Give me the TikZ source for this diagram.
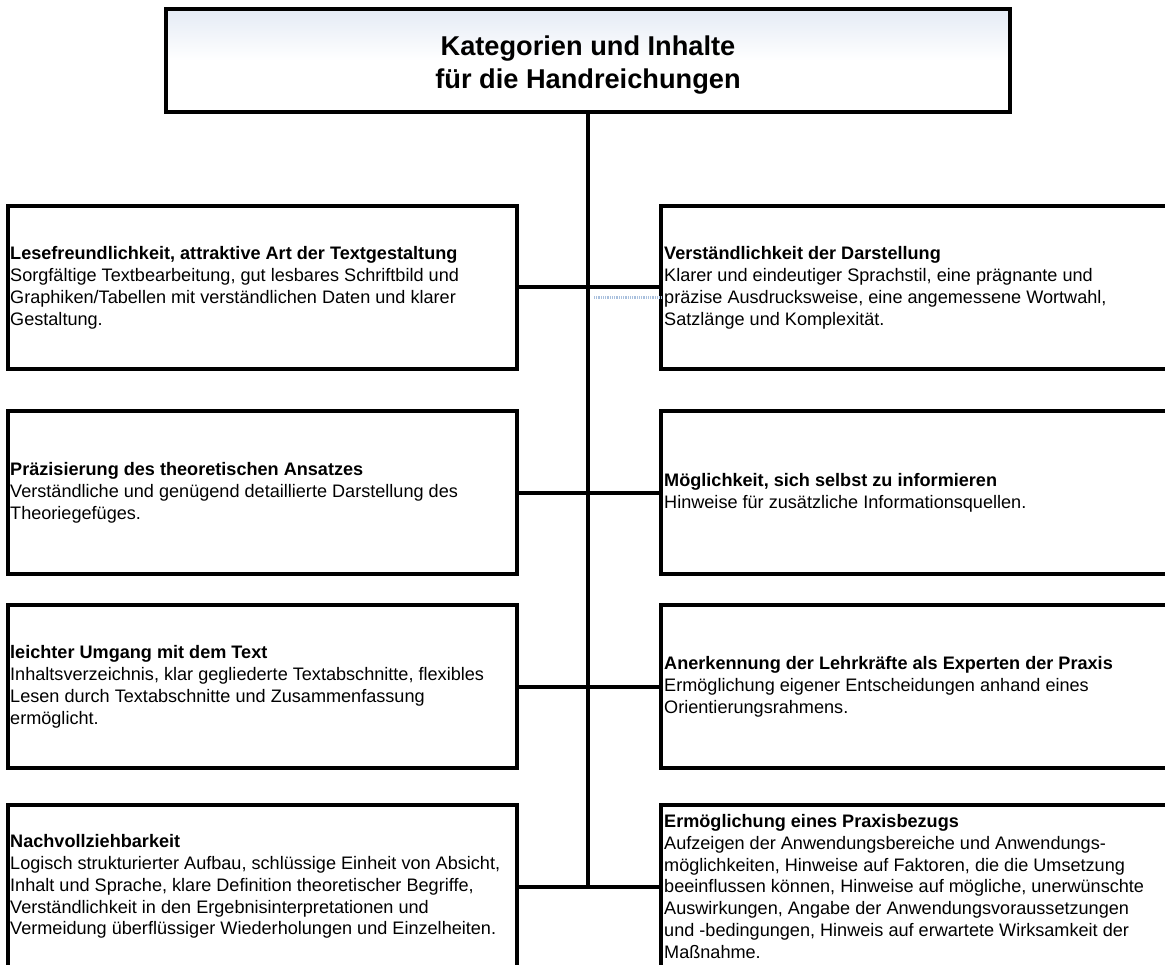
\documentclass[tikz,border=0pt]{standalone}
\usepackage{fontspec}
\setmainfont{Liberation Sans}
\definecolor{titletop}{HTML}{E4EBF5}
\definecolor{handle}{HTML}{A9C0DD}
\begin{document}
\begin{tikzpicture}[x=1pt,y=-1pt,
  box/.style={draw=black, line width=4pt, rectangle, fill=white,
    anchor=north west, outer sep=0pt, inner sep=0pt,
    minimum width=509pt, minimum height=163pt},
  boxtext/.style={anchor=west, align=left, inner sep=0pt,
    font=\fontsize{18.1}{21.9}\selectfont},
  headbox/.style={draw=black, line width=4pt, rectangle, outer sep=0pt,
    minimum width=844pt, minimum height=103pt,
    top color=titletop, bottom color=white, middle color=white},
  headtext/.style={align=center, inner sep=0pt,
    font=\bfseries\fontsize{27.2}{33}\selectfont},
  link/.style={draw=black, line width=4pt},
  handleline/.style={draw=handle, line width=3pt, dash pattern=on 1pt off 0.8pt}]
\useasboundingbox (0,0) rectangle (1165,965);
\clip (0,0) rectangle (1165,965);

% heading
\node[headbox] (T) at (588,60.5) {};
\node[headtext] (Tt) at ([yshift=-5pt]T.center) {Kategorien und Inhalte\\für die Handreichungen};

% left column
\node[box] (L1) at (8,206) {};
\node[box] (L2) at (8,411) {};
\node[box] (L3) at (8,605) {};
\node[box] (L4) at (8,805) {};
% right column
\node[box] (R1) at (661,206) {};
\node[box] (R2) at (661,411) {};
\node[box] (R3) at (661,605) {};
\node[box] (R4) at (661,805) {};

% spine and branches
\coordinate (spineend) at (588,887);
\draw[link] (T.south) -- (spineend);
\draw[link] (L1.east) -- (R1.west);
\draw[link] (L2.east) -- (R2.west);
\draw[link] (L3.east) -- (R3.west);
\draw[link] (L4.east) -- (R4.west);

% selection handle beside the first branch
\coordinate (h1) at (594,298);
\coordinate (h2) at (662,298);
\draw[handleline] (h1) -- (h2);

% texts
\node[boxtext] (L1t) at ([xshift=2pt]L1.west) {\textbf{Lesefreundlichkeit, attraktive Art der Textgestaltung}\\
Sorgfältige Textbearbeitung, gut lesbares Schriftbild und\\
Graphiken/Tabellen mit verständlichen Daten und klarer\\
Gestaltung.};
\node[boxtext] (R1t) at ([xshift=3pt]R1.west) {\textbf{Verständlichkeit der Darstellung}\\
Klarer und eindeutiger Sprachstil, eine prägnante und\\
präzise Ausdrucksweise, eine angemessene Wortwahl,\\
Satzlänge und Komplexität.};
\node[boxtext] (L2t) at ([xshift=2pt]L2.west) {\textbf{Präzisierung des theoretischen Ansatzes}\\
Verständliche und genügend detaillierte Darstellung des\\
Theoriegefüges.};
\node[boxtext] (R2t) at ([xshift=3pt]R2.west) {\textbf{Möglichkeit, sich selbst zu informieren}\\
Hinweise für zusätzliche Informationsquellen.};
\node[boxtext] (L3t) at ([xshift=2pt]L3.west) {\textbf{leichter Umgang mit dem Text}\\
Inhaltsverzeichnis, klar gegliederte Textabschnitte, flexibles\\
Lesen durch Textabschnitte und Zusammenfassung\\
ermöglicht.};
\node[boxtext] (R3t) at ([xshift=3pt]R3.west) {\textbf{Anerkennung der Lehrkräfte als Experten der Praxis}\\
Ermöglichung eigener Entscheidungen anhand eines\\
Orientierungsrahmens.};
\node[boxtext] (L4t) at ([xshift=2pt]L4.west) {\textbf{Nachvollziehbarkeit}\\
Logisch strukturierter Aufbau, schlüssige Einheit von Absicht,\\
Inhalt und Sprache, klare Definition theoretischer Begriffe,\\
Verständlichkeit in den Ergebnisinterpretationen und\\
Vermeidung überflüssiger Wiederholungen und Einzelheiten.};
\node[boxtext] (R4t) at ([xshift=3pt]R4.west) {\textbf{Ermöglichung eines Praxisbezugs}\\
Aufzeigen der Anwendungsbereiche und Anwendungs-\\
möglichkeiten, Hinweise auf Faktoren, die die Umsetzung\\
beeinflussen können, Hinweise auf mögliche, unerwünschte\\
Auswirkungen, Angabe der Anwendungsvoraussetzungen\\
und -bedingungen, Hinweis auf erwartete Wirksamkeit der\\
Maßnahme.};
\end{tikzpicture}
\end{document}
